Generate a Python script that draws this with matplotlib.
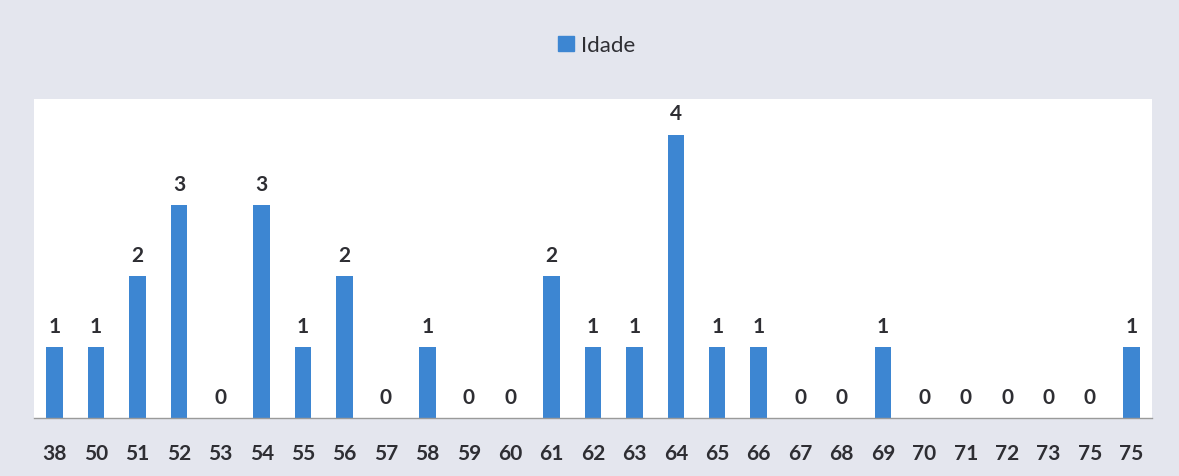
import matplotlib.pyplot as plt
import numpy as np
from matplotlib.patches import Patch

idades = ['38', '50', '51', '52', '53', '54', '55', '56', '57', '58', '59', '60', '61', '62',
          '63', '64', '65', '66', '67', '68', '69', '70', '71', '72', '73', '75', '75']
contagem = [1, 1, 2, 3, 0, 3, 1, 2, 0, 1, 0, 0, 2, 1, 1, 4, 1, 1, 0, 0, 1, 0, 0, 0, 0, 0, 1]

BAR_COLOR = '#3d86d2'
BG = '#e4e6ee'
TEXT = '#2e2e33'

plt.rcParams['font.family'] = ['Lato', 'DejaVu Sans']

fig = plt.figure(figsize=(11.79, 4.77), dpi=100, facecolor=BG)
ax = fig.add_axes([0.0288, 0.1216, 0.9483, 0.6684])
ax.set_facecolor('white')

x = np.arange(len(idades))
bars = ax.bar(x, contagem, width=0.4, color=BAR_COLOR)

for xi, v in zip(x, contagem):
    ax.annotate(str(v), (xi, v), xytext=(0, 8), textcoords='offset points',
                ha='center', va='bottom', fontsize=15, fontweight='bold', color=TEXT)

ax.set_xlim(-0.5, len(idades) - 0.5)
ax.set_ylim(0, 4.5)
ax.set_xticks(x)
ax.set_xticklabels(idades, fontsize=15, fontweight='bold', color=TEXT)
ax.tick_params(axis='x', length=0, pad=18)
ax.set_yticks([])
for s in ['top', 'left', 'right']:
    ax.spines[s].set_visible(False)
ax.spines['bottom'].set_color('#9a9a9a')
ax.spines['bottom'].set_linewidth(1.0)

fig.legend(handles=[Patch(color=BAR_COLOR, label='Idade')], loc='center',
           bbox_to_anchor=(0.506, 0.903), frameon=False, fontsize=16,
           handlelength=0.7, handleheight=0.7, handletextpad=0.3,
           labelcolor=TEXT)

fig.savefig('out.png', dpi=100, facecolor=BG)
